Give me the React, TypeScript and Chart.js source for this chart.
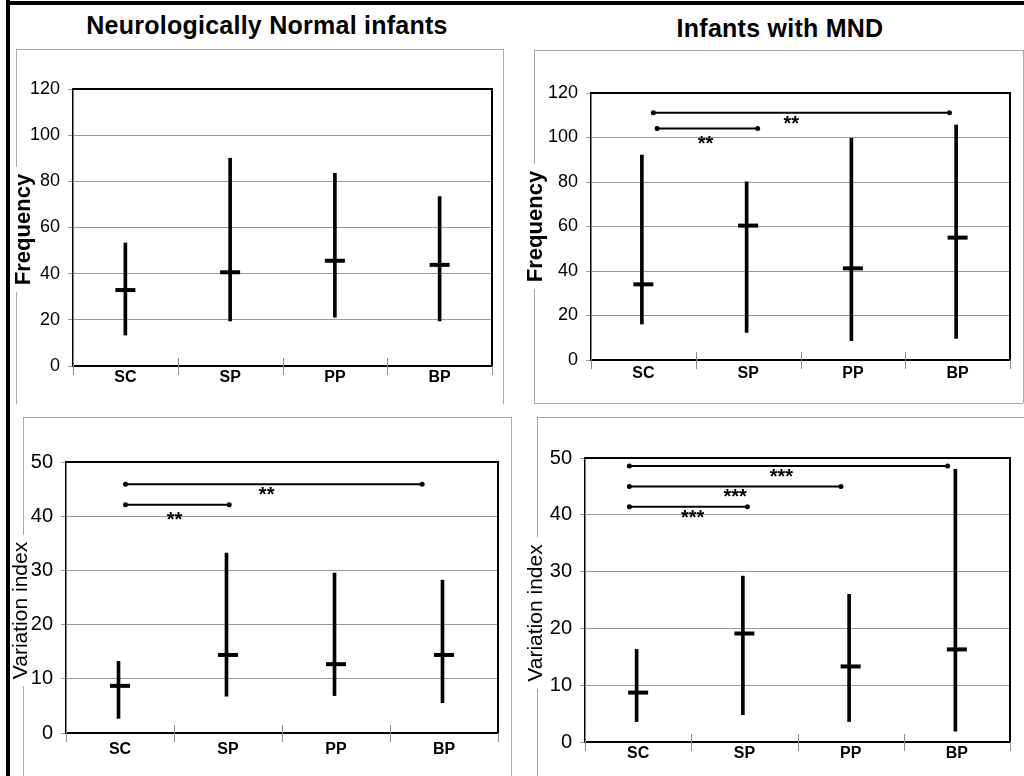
import React, { useEffect, useRef } from 'react';
import { Chart, registerables } from 'chart.js';

Chart.register(...registerables);

// ---------- data ----------
const categories = ['SC', 'SP', 'PP', 'BP'];

const freqTicks = [0, 20, 40, 60, 80, 100, 120];
const varTicks = [0, 10, 20, 30, 40, 50];

// Neurologically normal infants - frequency
const nnFreqMin = [13.4, 19.5, 21.1, 19.5];
const nnFreqMax = [53.3, 90.0, 83.5, 73.4];
const nnFreqMedian = [32.9, 40.6, 45.6, 43.8];

// Infants with MND - frequency
const mndFreqMin = [16.2, 12.4, 8.7, 9.7];
const mndFreqMax = [92.1, 80.1, 99.6, 105.6];
const mndFreqMedian = [34.0, 60.4, 41.2, 55.0];

// Neurologically normal infants - variation index
const nnVarMin = [2.7, 6.8, 6.9, 5.6];
const nnVarMax = [13.2, 33.2, 29.5, 28.2];
const nnVarMedian = [8.7, 14.4, 12.7, 14.4];

// Infants with MND - variation index
const mndVarMin = [3.6, 4.8, 3.6, 1.9];
const mndVarMax = [16.3, 29.2, 26.0, 48.0];
const mndVarMedian = [8.7, 19.1, 13.3, 16.3];

type Sig = { from: number; to: number; y: number; labelX: number; labelY: number; label: string };

// significance brackets (x in category index units, y in axis units)
const nnFreqSig: Sig[] = [];
const mndFreqSig: Sig[] = [
  { from: -0.08, to: 3.1, y: 111.1, labelX: 1.4, labelY: 108.3, label: '**' },
  { from: -0.04, to: 1.04, y: 104.0, labelX: 0.48, labelY: 99.3, label: '**' },
];
const nnVarSig: Sig[] = [
  { from: -0.13, to: 2.96, y: 45.9, labelX: 1.34, labelY: 44.8, label: '**' },
  { from: -0.13, to: 0.95, y: 42.1, labelX: 0.38, labelY: 40.2, label: '**' },
];
const mndVarSig: Sig[] = [
  { from: -0.28, to: 3.09, y: 48.6, labelX: 1.33, labelY: 47.4, label: '***' },
  { from: -0.28, to: 1.96, y: 45.0, labelX: 0.84, labelY: 43.9, label: '***' },
  { from: -0.28, to: 0.97, y: 41.4, labelX: 0.39, labelY: 40.3, label: '***' },
];

// ---------- layout / style ----------
const SANS = '"Liberation Sans", Arial, Helvetica, sans-serif';

type PanelCfg = {
  key: string;
  yTitle: string;
  yBold: boolean;
  yTitleSize: number;
  yTitleShift: number;
  ticks: number[];
  mins: number[];
  maxs: number[];
  medians: number[];
  sig: Sig[];
  frame: { l: number; t: number; r: number; b: number; sides: string };
  plot: { l: number; t: number; r: number; b: number };
  yWidth: number;
  tickSize: number;
  labelPad: number;
};

const panels: PanelCfg[] = [
  {
    key: 'tl', yTitle: 'Frequency', yBold: true, yTitleSize: 22, yTitleShift: 2, ticks: freqTicks,
    mins: nnFreqMin, maxs: nnFreqMax, medians: nnFreqMedian, sig: nnFreqSig,
    frame: { l: 16, t: 49, r: 503, b: 404, sides: 'ltr' },
    plot: { l: 73, t: 89, r: 492, b: 366 }, yWidth: 60, tickSize: 18, labelPad: 2,
  },
  {
    key: 'tr', yTitle: 'Frequency', yBold: true, yTitleSize: 22, yTitleShift: 0, ticks: freqTicks,
    mins: mndFreqMin, maxs: mndFreqMax, medians: mndFreqMedian, sig: mndFreqSig,
    frame: { l: 534, t: 50, r: 1023, b: 403, sides: 'ltrb' },
    plot: { l: 591, t: 93, r: 1011, b: 360 }, yWidth: 66, tickSize: 18, labelPad: 4,
  },
  {
    key: 'bl', yTitle: 'Variation index', yBold: false, yTitleSize: 21, yTitleShift: 13, ticks: varTicks,
    mins: nnVarMin, maxs: nnVarMax, medians: nnVarMedian, sig: nnVarSig,
    frame: { l: 23, t: 417, r: 511, b: 776, sides: 'ltr' },
    plot: { l: 66, t: 462, r: 498, b: 733 }, yWidth: 55, tickSize: 20, labelPad: 7,
  },
  {
    key: 'br', yTitle: 'Variation index', yBold: false, yTitleSize: 21, yTitleShift: 13, ticks: varTicks,
    mins: mndVarMin, maxs: mndVarMax, medians: mndVarMedian, sig: mndVarSig,
    frame: { l: 537, t: 417, r: 1030, b: 776, sides: 'lt' },
    plot: { l: 585, t: 458, r: 1013, b: 742 }, yWidth: 59, tickSize: 20, labelPad: 2,
  },
];

const W = 1024;
const H = 776;
const X_AXIS_H = 30;

const decorPlugin = {
  id: 'decor',
  afterLayout(chart: any, _args: any, opts: any) {
    // move the y-axis title along the axis by a few pixels
    const s = chart.scales.y;
    if (s && !s.__shiftPatched) {
      const orig = s.drawTitle;
      s.drawTitle = function (...a: any[]) {
        const d = opts.titleShift || 0;
        this.top += d;
        this.bottom += d;
        try { orig.apply(this, a); } finally { this.top -= d; this.bottom -= d; }
      };
      s.__shiftPatched = true;
    }
  },
  beforeDraw(chart: any, _args: any, opts: any) {
    const { ctx } = chart;
    const f = opts.frame;
    ctx.save();
    ctx.strokeStyle = '#a8a8a8';
    ctx.lineWidth = 1;
    ctx.beginPath();
    if (f.sides.includes('l')) { ctx.moveTo(f.l + 0.5, f.t); ctx.lineTo(f.l + 0.5, f.b); }
    if (f.sides.includes('t')) { ctx.moveTo(f.l, f.t + 0.5); ctx.lineTo(f.r, f.t + 0.5); }
    if (f.sides.includes('r')) { ctx.moveTo(f.r + 0.5, f.t); ctx.lineTo(f.r + 0.5, f.b); }
    if (f.sides.includes('b')) { ctx.moveTo(f.l, f.b + 0.5); ctx.lineTo(f.r, f.b + 0.5); }
    ctx.stroke();
    // white backing behind the y-axis title (hides the frame line)
    const ys = chart.scales.y;
    const fs = opts.titleSize;
    ctx.font = `${opts.titleBold ? 'bold ' : ''}${fs}px ${SANS}`;
    const w = ctx.measureText(opts.titleText).width;
    const cx = ys.left + fs / 2;
    const cy = (ys.top + ys.bottom) / 2 + (opts.titleShift || 0);
    ctx.fillStyle = '#fff';
    ctx.fillRect(cx - fs / 2 - 2, cy - w / 2 - 7, fs + 4, w + 14);
    ctx.restore();
  },
  beforeDatasetsDraw(chart: any) {
    const { ctx, chartArea: a } = chart;
    const xs = chart.scales.x;
    ctx.save();
    // crossing category tick marks
    const step = xs.getPixelForValue(1) - xs.getPixelForValue(0);
    const x0 = xs.getPixelForValue(0) - step / 2;
    ctx.strokeStyle = '#8c8c8c';
    ctx.lineWidth = 1;
    ctx.beginPath();
    for (let i = 0; i <= categories.length; i++) {
      const bx = Math.round(x0 + i * step) + 0.5;
      ctx.moveTo(bx, a.bottom - 8);
      ctx.lineTo(bx, a.bottom + 9);
    }
    ctx.stroke();
    // top and right sides of plot frame
    ctx.strokeStyle = '#000';
    ctx.lineWidth = 2;
    ctx.beginPath();
    ctx.moveTo(a.left, a.top);
    ctx.lineTo(a.right, a.top);
    ctx.lineTo(a.right, a.bottom);
    ctx.stroke();
    ctx.restore();
  },
  afterDatasetsDraw(chart: any, _args: any, opts: any) {
    const { ctx } = chart;
    const xs = chart.scales.xs;
    const ys = chart.scales.y;
    ctx.save();
    ctx.fillStyle = '#000';
    ctx.font = `bold 20px ${SANS}`;
    ctx.textAlign = 'center';
    ctx.textBaseline = 'middle';
    for (const s of opts.sig as Sig[]) {
      ctx.fillText(s.label, xs.getPixelForValue(s.labelX), ys.getPixelForValue(s.labelY) + 5);
    }
    ctx.restore();
  },
};

function Panel({ p }: { p: PanelCfg }) {
  const ref = useRef<HTMLCanvasElement | null>(null);
  useEffect(() => {
    if (!ref.current) return;
    const yMax = p.ticks[p.ticks.length - 1];
    const step = p.ticks[1] - p.ticks[0];
    const datasets: any[] = [
      {
        type: 'line',
        label: 'median',
        data: p.medians,
        xAxisID: 'x',
        yAxisID: 'y',
        showLine: false,
        pointStyle: 'line',
        pointRadius: 10,
        pointHoverRadius: 10,
        pointBorderWidth: 4,
        pointBorderColor: '#000',
        borderColor: '#000',
      },
      {
        type: 'bar',
        label: 'range',
        data: p.mins.map((v, i) => [v, p.maxs[i]]),
        xAxisID: 'x',
        yAxisID: 'y',
        backgroundColor: '#000',
        borderWidth: 0,
        barThickness: 3,
      },
      ...p.sig.map((s, i) => ({
        type: 'line',
        label: 'sig' + i,
        data: [{ x: s.from, y: s.y }, { x: s.to, y: s.y }],
        xAxisID: 'xs',
        yAxisID: 'y',
        borderColor: '#000',
        borderWidth: 2,
        pointRadius: 2.5,
        pointBorderWidth: 0,
        pointBackgroundColor: '#000',
        pointStyle: 'circle',
      })),
    ];
    const chart = new Chart(ref.current, {
      type: 'bar',
      data: { labels: categories, datasets },
      options: {
        responsive: false,
        animation: false,
        events: [],
        layout: {
          padding: {
            left: p.plot.l - p.yWidth,
            top: p.plot.t,
            right: W - p.plot.r,
            bottom: H - p.plot.b - X_AXIS_H,
          },
        },
        plugins: {
          legend: { display: false },
          tooltip: { enabled: false },
          decor: {
            frame: p.frame,
            sig: p.sig,
            titleText: p.yTitle,
            titleSize: p.yTitleSize,
            titleBold: p.yBold,
            titleShift: p.yTitleShift,
          },
        } as any,
        scales: {
          x: {
            type: 'category',
            offset: true,
            grid: { display: false, drawTicks: false },
            border: { display: true, color: '#000', width: 2 },
            ticks: {
              color: '#000',
              padding: p.labelPad,
              maxRotation: 0,
              autoSkip: false,
              font: { family: SANS, size: 16, weight: 'bold' },
            },
            afterFit: (s: any) => { s.height = X_AXIS_H; },
          },
          xs: { type: 'linear', display: false, min: -0.5, max: 3.5 },
          y: {
            type: 'linear',
            min: 0,
            max: yMax,
            afterBuildTicks: (s: any) => { s.ticks = p.ticks.map((v) => ({ value: v })); },
            ticks: {
              stepSize: step,
              color: '#000',
              padding: 8,
              font: { family: SANS, size: p.tickSize },
            },
            grid: { color: '#9a9a9a', lineWidth: 1, tickLength: 5, drawTicks: true },
            border: { display: true, color: '#000', width: 1.5 },
            title: {
              display: true,
              text: p.yTitle,
              color: '#000',
              padding: 0,
              font: { family: SANS, size: p.yTitleSize, weight: p.yBold ? 'bold' : 'normal', lineHeight: 1 },
            },
            afterFit: (s: any) => { s.width = p.yWidth; },
          },
        } as any,
      },
      plugins: [decorPlugin as any],
    });
    return () => chart.destroy();
  }, [p]);
  return (
    <canvas
      ref={ref}
      width={W}
      height={H}
      style={{ position: 'absolute', left: 0, top: 0, width: W, height: H }}
    />
  );
}

const titleStyle: React.CSSProperties = {
  position: 'absolute',
  width: 500,
  textAlign: 'center',
  fontFamily: SANS,
  fontWeight: 'bold',
  fontSize: 25,
  lineHeight: '25px',
  letterSpacing: 0.25,
  color: '#000',
  whiteSpace: 'nowrap',
};

export default function App() {
  return (
    <div style={{ position: 'fixed', left: 0, top: 0, width: W, height: H, background: '#fff', overflow: 'hidden' }}>
      <div style={{ ...titleStyle, left: 267 - 250, top: 13 }}>Neurologically Normal infants</div>
      <div style={{ ...titleStyle, left: 780 - 250, top: 16 }}>Infants with MND</div>
      {panels.map((p) => <Panel key={p.key} p={p} />)}
      <div style={{ position: 'absolute', left: 6, top: 0, width: 4, height: H, background: '#000', zIndex: 5 }} />
      <div style={{ position: 'absolute', left: 6, top: 1, width: W - 6, height: 4, background: '#000', zIndex: 5 }} />
    </div>
  );
}
